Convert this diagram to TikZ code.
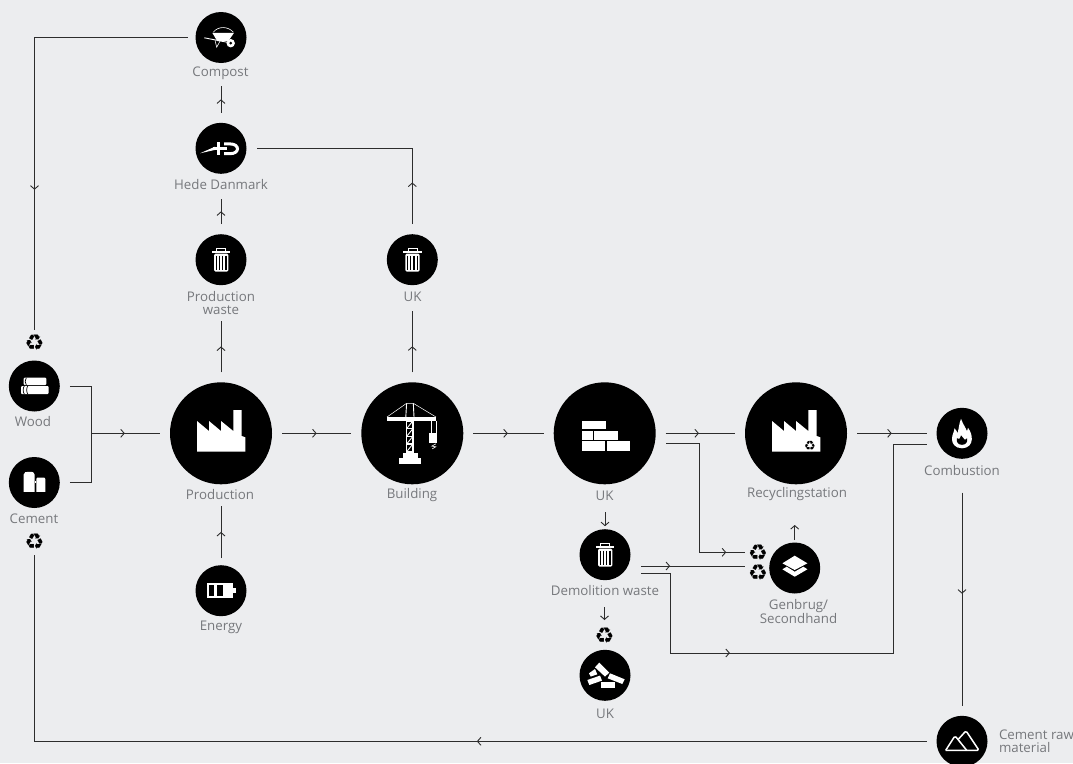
\documentclass[tikz,border=0pt]{standalone}
\usepackage{fontspec}
\setmainfont{Open Sans}
\newfontfamily\symfont{DejaVu Sans}
\usetikzlibrary{arrows.meta,decorations.markings}
\definecolor{bgcol}{RGB}{236,237,239}
\definecolor{linecol}{RGB}{45,45,45}
\definecolor{txtcol}{RGB}{118,120,124}
\tikzset{
    bigdot/.style={circle, fill=black, inner sep=0pt, minimum size=102pt, outer sep=10pt},
    smalldot/.style={circle, fill=black, inner sep=0pt, minimum size=51pt, outer sep=10pt},
    lbl/.style={text=txtcol, font=\fontsize{13.3}{13}\selectfont, align=center, inner sep=0pt, outer sep=6pt},
    rcy/.style={inner sep=0pt, minimum size=26pt, outer sep=0pt, font=\symfont\fontsize{22}{22}\selectfont},
    flow/.style={color=linecol, line width=0.9pt},
    midarrow/.style={flow, postaction={decorate}, decoration={markings, mark=at position #1 with {\arrow{Straight Barb[length=3.5pt,width=8pt]}}}},
    endarrow/.style={flow, -{Straight Barb[length=3.5pt,width=8pt]}},
    bin/.pic={
        \fill[white] (-9,-9) rectangle (9.3,-7);
        \draw[white, line width=0.8pt] (-4.3,-9) -- (-4.3,-11.6) -- (4.7,-11.6) -- (4.7,-9);
        \fill[white, rounded corners=1.5pt] (-7,-6.2) -- (7.3,-6.2) -- (7.3,12) -- (-7,12) -- cycle;
        \foreach \x in {-4.7,-1.6,1.7,5}
            \draw[black, line width=1.1pt] (\x,-4) -- (\x,10);
    },
    factory/.pic={
        \fill[white] (-24,18.3) -- (-24,-12.3) -- (-12,-2.3) -- (-12,-12.3) -- (0,-2.3) -- (0,-12.3)
            -- (12.3,-2.3) -- (12.3,-23.3) -- (20.7,-23.3) -- (20.7,2.7) -- (24.3,4) -- (24.3,18.3) -- cycle;
    },
    logs/.pic={
        \fill[white, rounded corners=1pt] (-10.7,-8.3) rectangle (12,-1);
        \fill[white, rounded corners=1pt] (-13.3,0) rectangle (14.3,8);
        \draw[black, line width=0.7pt] (-8,-8.3) .. controls (-9.5,-6) and (-9.5,-3) .. (-8,-1);
        \draw[black, line width=0.7pt] (-10,0) .. controls (-11.5,2) and (-11.5,6) .. (-10,8);
        \draw[black, line width=0.7pt] (-6.5,0) .. controls (-8,2) and (-8,6) .. (-6.5,8);
    },
    silos/.pic={
        \fill[white] (-10.7,9.3) -- (-10.7,-8) .. controls (-10.7,-10.7) and (-8,-10.7) .. (-5.2,-10.7)
            .. controls (-2,-10.7) and (0.3,-10.7) .. (0.3,-8) -- (0.3,9.3) -- cycle;
        \fill[white] (2,9.3) -- (2,-3.5) .. controls (2,-5) and (3,-5) .. (6.5,-5)
            .. controls (10,-5) and (11,-5) .. (11,-3.5) -- (11,9.3) -- cycle;
        \fill[white] (0.3,-1.5) rectangle (2,0);
    },
    barrow/.pic={
        \fill[white] (-8.7,-4.7) -- (13,-4.7) -- (7.3,3.7) -- (-3.7,3.7) -- cycle;
        \draw[white, line width=0.6pt] (-7.7,-5.3) .. controls (-3,-11.5) and (7,-11.5) .. (12.3,-5.3);
        \draw[white, line width=0.9pt] (-16.7,0.3) -- (9,5.3);
        \draw[white, line width=0.6pt] (-6,2.7) -- (-4.3,9.7) -- (-1,3.7);
        \fill[white] (9.7,5.7) circle (4.2);
        \fill[black] (9.7,5.7) circle (1.5);
    },
    hdlogo/.pic={
        \fill[white] (-21,5) -- (-6,-1.6) -- (-6,1.6) -- cycle;
        \fill[white] (-8,-1.3) rectangle (6,1.3);
        \fill[white] (-4.4,-6.7) rectangle (-1,6.7);
        \draw[white, line width=3pt] (3,-4.4) -- (9,-4.4) .. controls (19,-4.4) and (19,5.4) .. (9,5.4) -- (3,5.4);
    },
    crane/.pic={
        \fill[white] (-6.7,-12.7) rectangle (1.7,19.3);
        \foreach \y in {-11.7,-3.9,3.7,11.4}
            {\fill[black] (-5,\y) rectangle (0,\y+6.2);
             \draw[white, line width=0.9pt] (-5,\y+6.2) -- (0,\y);}
        \fill[white] (-25.3,-16.3) rectangle (23.7,-12.3);
        \draw[white, line width=0.5pt] (-25.3,-16.3) -- (-5.7,-30) -- (1,-30) -- (23.7,-16.3);
        \draw[white, line width=0.9pt] (-5.7,-30) -- (-6.5,-16.3);
        \draw[white, line width=0.9pt] (1,-30) -- (1.7,-16.3);
        \fill[white] (-9.7,19.3) rectangle (5.3,24.3);
        \fill[white] (-13.3,24.3) rectangle (8.7,30.7);
        \fill[white] (17,0) rectangle (25,9.3);
        \draw[white, line width=0.6pt] (19,-12.3) -- (19,0);
        \draw[white, line width=0.6pt] (23.7,-12.3) -- (23.7,0);
        \draw[white, line width=0.6pt] (23.7,10.5) -- (19.5,12.8) -- (23.5,13.5) -- (20,15.5);
    },
    bricks/.pic={
        \fill[white] (-23,-12.7) rectangle (1,-4);
        \fill[white] (-23,-2.7) rectangle (-11.7,6.7);
        \fill[white] (-10.3,-2.7) rectangle (13,6.7);
        \fill[white] (-23,8) rectangle (0.7,17.3);
        \fill[white] (2,8) rectangle (25.7,17.3);
    },
    layers/.pic={
        \fill[white] (-12.3,-4.7) -- (0,-12.3) -- (12.7,-4.7) -- (0,2) -- cycle;
        \fill[white] (-12.3,1.3) -- (-8,-1.3) -- (0,3.7) -- (8.7,-1.3) -- (12.7,1.3) -- (0,8.7) -- cycle;
    },
    rubble/.pic={
        \fill[white] (-5.7,-12.7) -- (-10,-8) -- (0,1.3) -- (4.3,-2.7) -- cycle;
        \fill[white] (-16,-2) -- (-10,-6.3) -- (-7.7,-1) -- (-14.3,1.3) -- cycle;
        \fill[white] (-17.7,4.7) -- (-5,0.3) -- (-3,5.3) -- (-15.7,9.7) -- cycle;
        \fill[white] (5,-2) -- (19.7,4) -- (17.3,8.7) -- (2.7,3) -- cycle;
        \fill[white] (-4.3,7) rectangle (10,12.3);
    },
    flame/.pic={
        \fill[white] (0,15) .. controls (-7,15) and (-10.5,10) .. (-10,5)
            .. controls (-9.7,1) and (-8,-1) .. (-7.5,-5)
            .. controls (-5.5,-3) and (-5,-1.5) .. (-4.5,0)
            .. controls (-3,-5) and (-3,-10) .. (-1,-14.5)
            .. controls (1,-9) and (3.5,-6) .. (5,-2)
            .. controls (5.5,-3) and (6,-4) .. (6,-5.5)
            .. controls (8.5,-2) and (10,2) .. (9.8,6)
            .. controls (9.7,11) and (6,15) .. (0,15) -- cycle;
        \fill[black] (0,11.5) .. controls (-4,11.5) and (-6,8.5) .. (-5,5)
            .. controls (-3.5,6.5) and (-2,6) .. (-1,2)
            .. controls (0.5,4) and (2,5.5) .. (3,6.5)
            .. controls (4.5,5.5) and (5,5) .. (5,5)
            .. controls (6,8.5) and (4,11.5) .. (0,11.5) -- cycle;
    },
    battery/.pic={
        \fill[white] (-14.3,-7.3) rectangle (12.3,7);
        \fill[white] (12.3,-3) rectangle (14.7,2.7);
        \fill[black] (-12.3,-5.3) rectangle (-6.7,5.2);
        \fill[black] (-4,-5.3) rectangle (1.7,5.2);
    },
    peaks/.pic={
        \draw[white, line width=1.5pt, line join=round, rounded corners=1.5pt] (-16.3,9) -- (-7,-5.5) -- (4.7,9);
        \draw[white, line width=1.5pt, line join=round, rounded corners=1.5pt] (-3.7,-2) -- (4,-10.5) -- (17,9) -- (-16.3,9);
    }
}
\begin{document}
\begin{tikzpicture}[x=1pt, y=-1pt]
    \fill[bgcol] (0,0) rectangle (1073,763);
    \useasboundingbox (0,0) rectangle (1073,763);

    % Main row
    \node[bigdot] (production) at (221,433.3) {};
    \node[bigdot] (building) at (412.3,433.3) {};
    \node[bigdot] (ukbricks) at (604.7,433.3) {};
    \node[bigdot] (recycling) at (796,433.3) {};
    \node[smalldot] (combustion) at (962,433.3) {};
    \node[lbl] (productionlbl) at (220,494.5) {Production};
    \node[lbl] (buildinglbl) at (412,495.5) {Building};
    \node[lbl] (ukbrickslbl) at (604.5,495.5) {UK};
    \node[lbl] (recyclinglbl) at (797,494) {Recyclingstation};
    \node[lbl] (combustionlbl) at (962,470.5) {Combustion};

    % Raw materials
    \node[smalldot] (wood) at (34.3,386) {};
    \node[smalldot] (cement) at (34.3,482.5) {};
    \node[lbl] (woodlbl) at (33,421.5) {Wood};
    \node[lbl] (cementlbl) at (34,518.5) {Cement};
    \node[rcy] (woodrcy) at (34.5,342.5) {♻};
    \node[rcy] (cementrcy) at (34.5,542) {♻};
    \node[smalldot, outer sep=7pt] (energy) at (221,590.7) {};
    \node[lbl] (energylbl) at (221,627.5) {Energy};

    % Upper branch
    \node[smalldot, outer sep=8pt] (compost) at (221,37.5) {};
    \node[smalldot] (hede) at (221,148.3) {};
    \node[smalldot] (prodwaste) at (221,259.7) {};
    \node[smalldot] (ukbin) at (412.3,259.7) {};
    \node[lbl] (compostlbl) at (220.5,73.5) {Compost};
    \node[lbl] (hedelbl) at (221,184.5) {Hede Danmark};
    \node[lbl] (prodwastelbl) at (221,303) {Production\\waste};
    \node[lbl] (ukbinlbl) at (412.5,296.5) {UK};

    % Lower branch
    \node[smalldot] (demolition) at (605,554.7) {};
    \node[smalldot] (ukrubble) at (605,675.3) {};
    \node[smalldot] (genbrug) at (794.7,568) {};
    \node[smalldot] (cementraw) at (962,741.3) {};
    \node[lbl] (demolitionlbl) at (605,591) {Demolition waste};
    \node[lbl] (ukrubblelbl) at (605,713.5) {UK};
    \node[lbl] (genbruglbl) at (798.5,611.5) {Genbrug/\\Secondhand};
    \node[lbl, anchor=west, align=left] (cementrawlbl) at (993,741) {Cement raw\\material};
    \node[rcy] (genbrugrcya) at (758,552.3) {♻};
    \node[rcy] (genbrugrcyb) at (758,572.3) {♻};
    \node[rcy] (rubblercy) at (604.5,636) {♻};

    % Icons
    \pic at (production) {factory};
    \pic at (recycling) {factory};
    \node[font=\symfont\fontsize{13}{13}\selectfont, text=black, inner sep=0pt] (factoryrcy) at (810,445.5) {♻};
    \pic at (prodwaste) {bin};
    \pic at (ukbin) {bin};
    \pic at (demolition) {bin};
    \pic at (wood) {logs};
    \pic at (cement) {silos};
    \pic at (compost) {barrow};
    \pic at (hede) {hdlogo};
    \pic at (building) {crane};
    \pic at (ukbricks) {bricks};
    \pic at (genbrug) {layers};
    \pic at (ukrubble) {rubble};
    \pic at (combustion) {flame};
    \pic at (energy) {battery};
    \pic at (cementraw) {peaks};

    % Connectors
    \coordinate (merge) at (91,433.3);
    \coordinate (ukout) at (666,443.3);
    \coordinate (ukdown) at (699,443.3);
    \coordinate (demoa) at (641,566);
    \coordinate (demob) at (641,573);
    \coordinate (demolow) at (670,653);
    \coordinate (riser) at (893,653);
    \coordinate (combin) at (926.5,444);
    \coordinate (genbrugup) at (794.7,525);

    \draw[flow] (wood.east) -| (merge);
    \draw[flow] (cement.east) -| (merge);
    \draw[midarrow=.49] (merge) -- (production.west);
    \draw[midarrow=.5] (production.east) -- (building.west);
    \draw[midarrow=.49] (building.east) -- (ukbricks.west);
    \draw[midarrow=.48] (ukbricks.east) -- (recycling.west);
    \draw[midarrow=.5] (recycling.east) -- (combustion.west);
    \draw[midarrow=.5] (production.north) -- (production.north |- prodwastelbl.south);
    \draw[midarrow=.5] (energy.north) -- (energy.north |- productionlbl.south);
    \draw[midarrow=.45, shorten >=3pt] (prodwaste.north) -- (prodwaste.north |- hedelbl.south);
    \draw[midarrow=.5] (hede.north) -- (hede.north |- compostlbl.south);
    \draw[midarrow=.4, shorten >=4pt] (building.north) -- (building.north |- ukbinlbl.south);
    \draw[midarrow=.18] (ukbin.north) |- (hede.east);
    \draw[midarrow=.686] (compost.west) -| (woodrcy.north);
    \draw[midarrow=.417] (cementraw.west) -| (cementrcy.south);
    \draw[midarrow=.5, shorten <=11pt] (combustionlbl.south) -- (cementraw.north);
    \draw[midarrow=.9] (ukout) -- (ukdown) |- (genbrugrcya.west);
    \draw[midarrow=.28] (demoa) -- (demoa -| genbrugrcyb.west);
    \draw[midarrow=.294] (demob) -| (demolow) -- (riser) |- (combin);
    \draw[endarrow, shorten <=6pt, shorten >=-7pt] (demolition.north |- ukbrickslbl.south) -- (demolition.north);
    \draw[endarrow, shorten <=5pt, shorten >=3pt] (rubblercy.north |- demolitionlbl.south) -- (rubblercy.north);
    \draw[endarrow, shorten <=-7.5pt] (genbrug.north) -- (genbrugup);
\end{tikzpicture}
\end{document}
